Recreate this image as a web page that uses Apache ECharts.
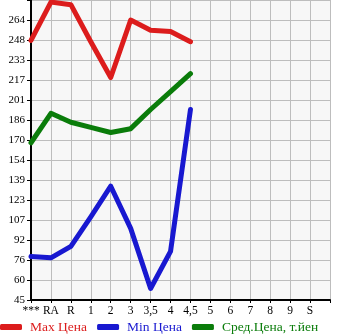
<!DOCTYPE html>
<html><head><meta charset="utf-8">
<script src="https://cdn.jsdelivr.net/npm/echarts@6/dist/echarts.min.js"></script>
<style>html,body{margin:0;padding:0;background:#fff}#c{width:345px;height:335px}</style>
</head><body><div id="c"></div>
<script>
var categories = ['***','RA','R','1','2','3','3,5','4','4,5','5','6','7','8','9','S',''];
var yTickLabels = ['45','60','76','92','107','123','139','154','170','186','201','217','233','248','264',''];
var maxPrice = [248, 278, 276, 247, 219, 264, 256, 255, 247];
var minPrice = [79, 78, 87, 110, 134, 101, 54, 83, 194];
var avgPrice = [168, 191, 184, 180, 176, 179, 194, 208, 222];
var seriesNames = ['Max Цена', 'Min Цена', 'Сред.Цена, т.йен'];
var colors = ['#dc1c1c', '#1818d0', '#0a7c0a'];
var yMin = 45, yMax = 45 + 15 * (219 / 14);

var font = '"Liberation Serif","DejaVu Serif",serif';
var chart = echarts.init(document.getElementById('c'));
function mk(name, data, i) {
  return {name: name, type: 'line', data: data, yAxisIndex: 0, symbol: 'none',
    lineStyle: {width: 5, color: colors[i], cap: 'round', join: 'round'},
    itemStyle: {color: colors[i]}, animation: false};
}
chart.setOption({
  animation: false,
  grid: {left: 31, top: 0, width: 299, height: 300, show: true, backgroundColor: '#f7f7f7', borderWidth: 0},
  xAxis: {type: 'category', data: categories, boundaryGap: false,
    axisLine: {lineStyle: {color: '#000', width: 2}},
    axisTick: {show: true, length: 3, lineStyle: {color: '#000'}},
    splitLine: {show: true, lineStyle: {color: '#bdbdbd', width: 1}},
    axisLabel: {color: '#000', fontFamily: font, fontSize: 11.5, margin: 5, interval: 0}},
  yAxis: [
    {type: 'value', min: yMin, max: yMax, show: false},
    {type: 'category', data: yTickLabels, boundaryGap: false, position: 'left',
      axisLine: {show: true, lineStyle: {color: '#000', width: 2}},
      axisTick: {show: true, length: 4, lineStyle: {color: '#000'}},
      splitLine: {show: true, lineStyle: {color: '#bdbdbd', width: 1}},
      axisLabel: {color: '#000', fontFamily: font, fontSize: 11, margin: 6, interval: 0, padding: [0, 0, 6, 0]}}
  ],
  legend: {top: 315, left: 0, padding: [5, 5, 5, 0], itemWidth: 22, itemHeight: 6, itemGap: 10, icon: 'roundRect',
    data: seriesNames.map(function (n, i) { return {name: n, textStyle: {color: colors[i]}}; }),
    textStyle: {fontFamily: font, fontSize: 13.5, padding: [0, 0, 0, 3]}},
  series: [mk(seriesNames[0], maxPrice, 0), mk(seriesNames[1], minPrice, 1), mk(seriesNames[2], avgPrice, 2)]
});
</script></body></html>
